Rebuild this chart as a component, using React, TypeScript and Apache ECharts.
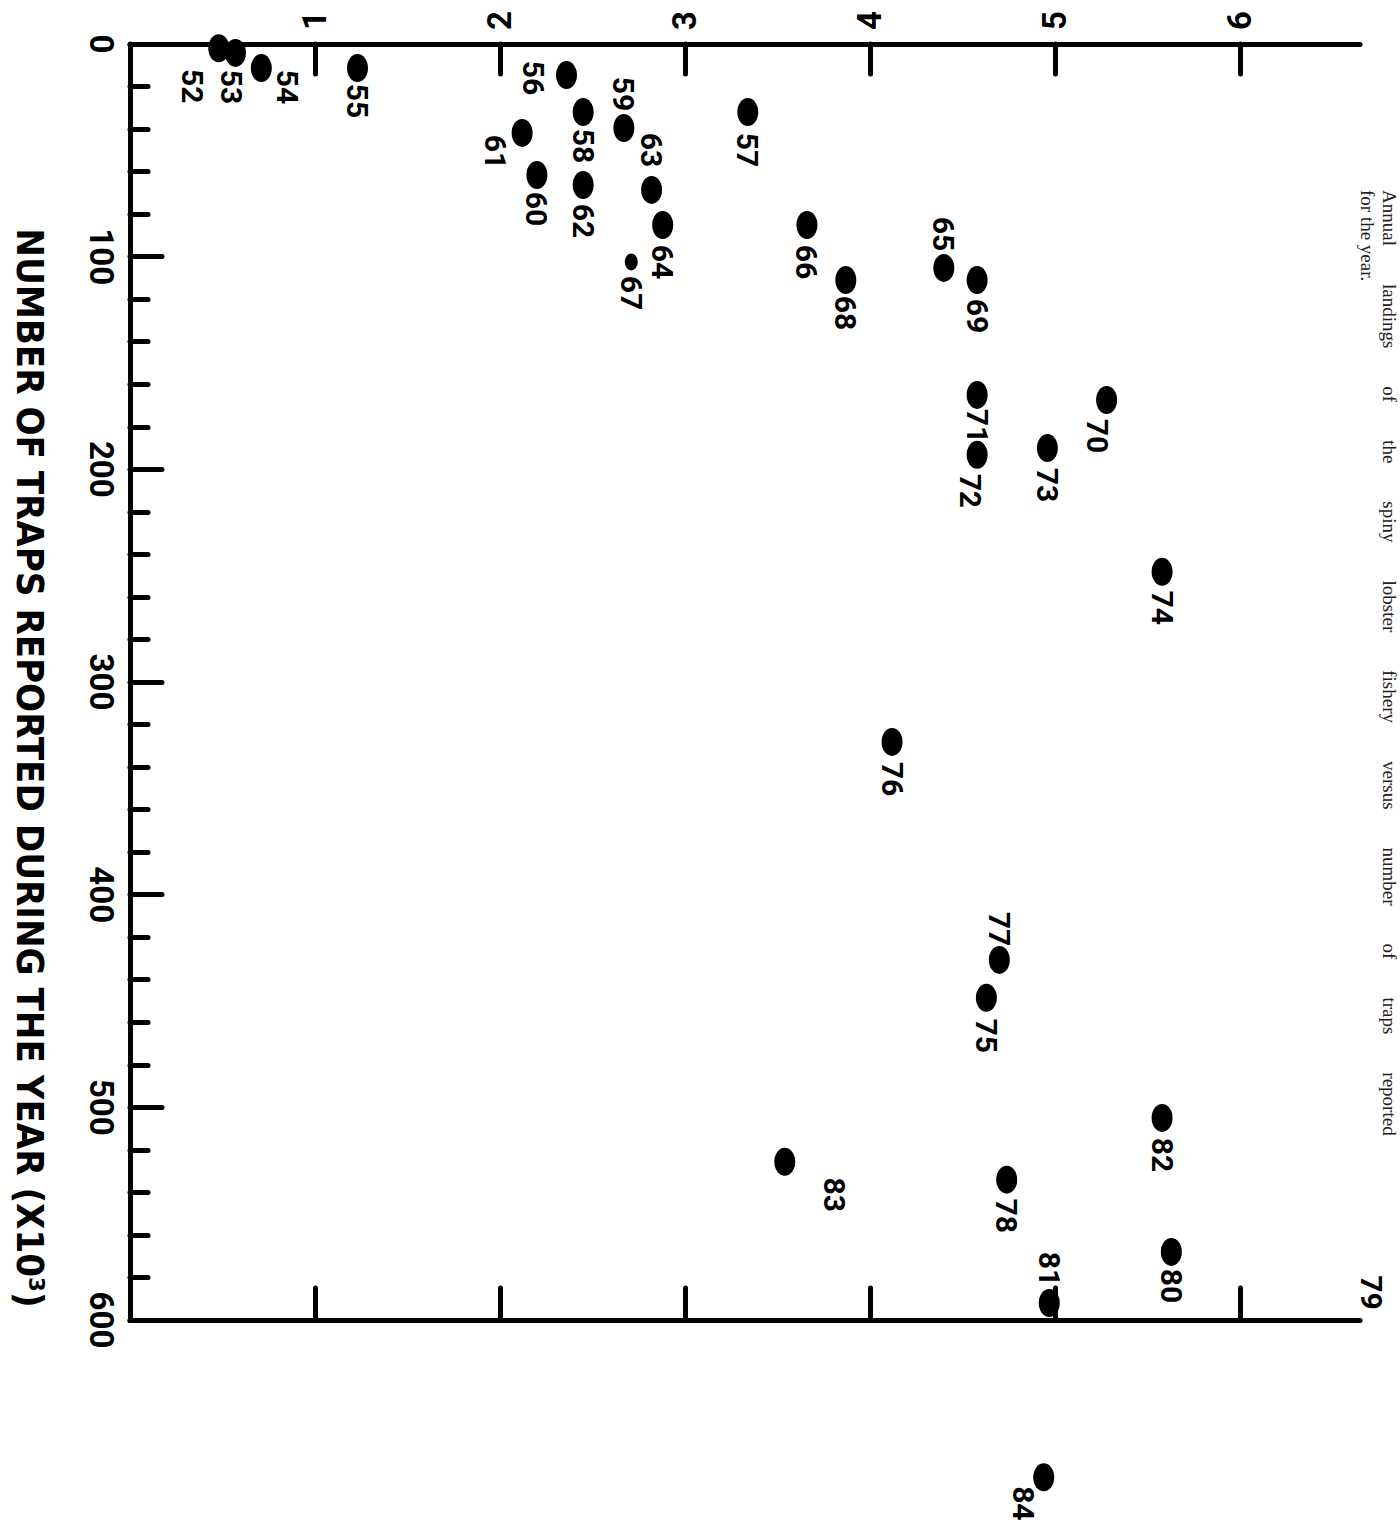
import React, { useEffect, useRef } from "react";
import * as echarts from "echarts";

// ---- data (read from the scanned, rotated figure) ----
const years = ["52","53","54","55","56","57","58","59","60","61","62","63","64","65","66","67","68","69","70","71","72","73","74","75","76","77","78","79","80","81","82","83","84"];
// landings (horizontal axis in the rotated picture)
const landings = [0.48,0.57,0.71,1.23,2.36,3.34,2.45,2.67,2.20,2.12,2.45,2.82,2.88,4.40,3.66,2.71,3.87,4.58,5.28,4.58,4.58,4.96,5.58,4.63,4.12,4.70,4.74,6.71,5.63,4.97,5.58,3.54,4.94];
// number of traps reported (x 10^3)
const traps = [2,4.2,11.3,11.3,14.6,32,32,39.5,61.6,41.8,66.3,68.6,85.1,105.3,85.1,102.5,111,111,167.4,165,193.2,190,248.2,448.5,328.2,430.7,534,573,568,592,505,525.6,674];
const landingTicks = [1,2,3,4,5,6];
const trapTitle = "NUMBER OF TRAPS REPORTED DURING THE YEAR (X10³)";
const captionWords = ["Annual", "landings", "of", "the", "spiny", "lobster", "fishery", "versus", "number", "of", "traps", "reported"];
const captionLine2 = "for the year.";

// ---- styling only ----
const BOLD = '"DejaVu Sans Condensed", "DejaVu Sans", sans-serif';
const DIGITS = 'Roboto, "Noto Sans", sans-serif';
const SERIF = '"Liberation Serif", "DejaVu Serif", serif';
const JUSTIFY_GAP = "\u00A0".repeat(8);
// label centre relative to its dot, in screen pixels (dx right, dy down)
const labelOffsets: Record<string, [number, number]> = {
  "52": [-26, 38], "53": [-4, 34], "54": [26, 19], "55": [0, 33], "56": [-33, 3],
  "57": [0, 38], "58": [0, 34], "59": [0, -34], "60": [0, 34], "61": [-27, 19],
  "62": [0, 36], "63": [0, -40], "64": [0, 37], "65": [0, -34], "66": [0, 37],
  "67": [0, 31], "68": [0, 33], "69": [0, 36], "70": [-9, 36], "71": [0, 31],
  "72": [-7, 36], "73": [0, 37], "74": [0, 36], "75": [0, 38], "76": [0, 37],
  "77": [0, -31], "78": [0, 36], "79": [0, 30], "80": [0, 34], "81": [0, -34],
  "82": [0, 37], "83": [50, 33], "84": [-20, 26],
};
const ELLIPSE = "path://M0,-1 A1,1 0 1,1 0,1 A1,1 0 1,1 0,-1 Z";

export default function App() {
  const ref = useRef<HTMLDivElement>(null);
  useEffect(() => {
    if (!ref.current) return;
    const chart = echarts.init(ref.current, null, { renderer: "svg" });
    const axisLine = { show: true, onZero: false, lineStyle: { color: "#000", width: 5 } };
    const data = years.map((y, i) => {
      const [dx, dy] = labelOffsets[y];
      return {
        name: y,
        value: [landings[i], traps[i]],
        symbolSize: y === "79" ? 0 : y === "67" ? [13, 17] : [21, 28],
        // label is rotated -90deg, so its offset is given in the rotated frame
        label: { offset: [dy, -dx] },
      };
    });
    chart.setOption({
      animation: false,
      backgroundColor: "#fff",
      grid: { left: 130, top: 44, right: 40, bottom: 215, containLabel: false },
      xAxis: [
        {
          type: "value", position: "top", min: 0, max: 6.65, interval: 1,
          axisLine,
          axisTick: { show: true, inside: true, length: 30, customValues: landingTicks, lineStyle: { color: "#000", width: 5, cap: "round" } },
          axisLabel: { show: true, customValues: landingTicks, rotate: -90, margin: 14, fontSize: 33, fontWeight: "bold", fontFamily: DIGITS, color: "#000" },
          splitLine: { show: false },
        },
        {
          type: "value", position: "bottom", min: 0, max: 6.65, interval: 1,
          axisLine,
          axisTick: { show: true, inside: true, length: 32, customValues: landingTicks, lineStyle: { color: "#000", width: 5, cap: "round" } },
          axisLabel: { show: false },
          splitLine: { show: false },
        },
      ],
      yAxis: {
        type: "value", inverse: true, min: 0, max: 600, interval: 100, position: "left",
        axisLine,
        axisTick: { show: true, inside: true, length: 32, lineStyle: { color: "#000", width: 5, cap: "round" } },
        minorTick: { show: true, splitNumber: 5, length: 18, lineStyle: { color: "#000", width: 5, cap: "round" } },
        axisLabel: { rotate: -90, margin: 12, fontSize: 33, fontWeight: "bold", fontFamily: DIGITS, color: "#000" },
        splitLine: { show: false },
        minorSplitLine: { show: false },
      },
      series: [
        {
          type: "scatter", xAxisIndex: 0, yAxisIndex: 0, clip: false,
          symbol: ELLIPSE,
          itemStyle: { color: "#000", opacity: 1 },
          label: {
            show: true, position: "inside", formatter: "{b}", rotate: -90,
            align: "center", verticalAlign: "middle",
            fontSize: 30, fontWeight: "bold", fontFamily: DIGITS, color: "#000",
          },
          data,
        },
      ],
      graphic: [
        {
          type: "text", x: 30, y: 768, rotation: -Math.PI / 2,
          style: { text: trapTitle, fontSize: 38, fontWeight: "bold", fontFamily: BOLD, fill: "#000", align: "center", verticalAlign: "middle", textAlign: "center", textVerticalAlign: "middle" },
        },
        {
          type: "text", x: 1389, y: 190, rotation: -Math.PI / 2,
          style: { text: captionWords.join(JUSTIFY_GAP), fontSize: 19, fontFamily: SERIF, fill: "#222", align: "left", verticalAlign: "middle", textAlign: "left", textVerticalAlign: "middle" },
        },
        {
          type: "text", x: 1367, y: 190, rotation: -Math.PI / 2,
          style: { text: captionLine2, fontSize: 19, fontFamily: SERIF, fill: "#222", align: "left", verticalAlign: "middle", textAlign: "left", textVerticalAlign: "middle" },
        },
      ],
    });
    return () => chart.dispose();
  }, []);
  return (
    <div
      ref={ref}
      style={{ position: "absolute", left: 0, top: 0, width: 1400, height: 1535, background: "#fff" }}
    />
  );
}
